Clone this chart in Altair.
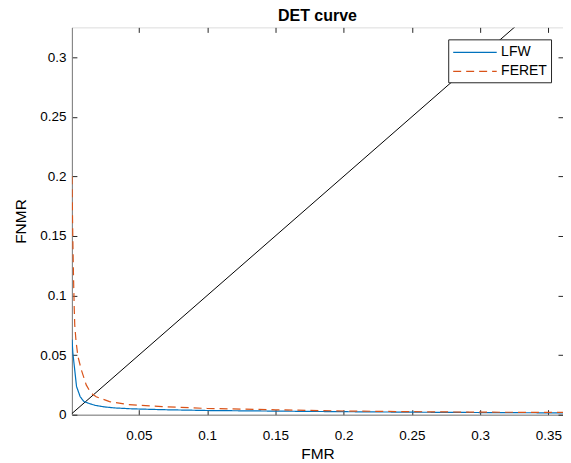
import altair as alt
import pandas as pd

# LFW curve (FMR, FNMR)
lfw_fmr = [0.001, 0.0016, 0.0043, 0.0070, 0.0097, 0.014, 0.018, 0.025, 0.033, 0.045, 0.067, 0.10, 0.15, 0.20, 0.25, 0.30, 0.361]
lfw_fnmr = [0.063, 0.052, 0.0237, 0.015, 0.0111, 0.0092, 0.0078, 0.0065, 0.0056, 0.0049, 0.0042, 0.0035, 0.0030, 0.0025, 0.0021, 0.0018, 0.0015]

# FERET curve (FMR, FNMR)
feret_fmr = [0.001, 0.0013, 0.0017, 0.0022, 0.0026, 0.0030, 0.0040, 0.0053, 0.0078, 0.0114, 0.0146, 0.0187, 0.0285, 0.0426, 0.067, 0.10, 0.15, 0.20, 0.25, 0.30, 0.361]
feret_fnmr = [0.200, 0.170, 0.140, 0.110, 0.090, 0.075, 0.061, 0.049, 0.0377, 0.025, 0.0185, 0.015, 0.011, 0.0084, 0.0068, 0.0052, 0.0041, 0.0031, 0.0025, 0.0021, 0.0019]

# Diagonal reference line (FMR = FNMR)
diag_vals = [0.0, 0.4]

series_names = ["LFW", "FERET"]
series_colors = ["#0072BD", "#D95319"]
x_ticks = [0.05, 0.1, 0.15, 0.2, 0.25, 0.3, 0.35]
y_ticks = [0, 0.05, 0.1, 0.15, 0.2, 0.25, 0.3]
x_domain = [0.0009, 0.3607]
y_domain = [0, 0.325]

rows = []
for i, (a, b) in enumerate(zip(lfw_fmr, lfw_fnmr)):
    rows.append({"series": "LFW", "order": i, "FMR": a, "FNMR": b})
for i, (a, b) in enumerate(zip(feret_fmr, feret_fnmr)):
    rows.append({"series": "FERET", "order": i, "FMR": a, "FNMR": b})
df = pd.DataFrame(rows)
diag = pd.DataFrame({"FMR": diag_vals, "FNMR": diag_vals})

FONT = "Liberation Sans"
AX = "#262626"
GRAY = "#7a7a7a"

xscale = alt.Scale(domain=x_domain, nice=False, zero=False)
yscale = alt.Scale(domain=y_domain, nice=False, zero=False)

inward = {"expr": "-5"}

legend_kw = dict(title=None, orient="none", legendX=377, legendY=12,
                 symbolType="M-1,0H4.45", symbolSize=256,
                 symbolStrokeWidth=1.2, labelFontSize=14,
                 labelOffset=31, rowPadding=3,
                 fillColor="white", strokeColor=AX, padding=4)

lines = alt.Chart(df).mark_line(strokeWidth=1.2, clip=True).encode(
    x=alt.X("FMR:Q", scale=xscale,
            axis=alt.Axis(values=x_ticks, format="~g", title="FMR", orient="bottom",
                          grid=False, tickSize=inward, tickColor=AX, domainColor=GRAY,
                          labelPadding=19, titlePadding=4, labelFontSize=13.5,
                          titleFontSize=15.5, titleFontWeight="normal")),
    y=alt.Y("FNMR:Q", scale=yscale,
            axis=alt.Axis(values=y_ticks, format="~g", title="FNMR", orient="left",
                          grid=False, tickSize=inward, tickColor=AX, domainColor=GRAY,
                          labelPadding=11, titlePadding=11, labelFontSize=13.5,
                          titleFontSize=15.5, titleFontWeight="normal")),
    color=alt.Color("series:N", sort=series_names,
                    scale=alt.Scale(domain=series_names, range=series_colors),
                    legend=alt.Legend(**legend_kw)),
    strokeDash=alt.StrokeDash("series:N", sort=series_names,
                              scale=alt.Scale(domain=series_names, range=[[1, 0], [8, 5]]),
                              legend=alt.Legend(**legend_kw)),
    order="order:Q",
)

diag_line = alt.Chart(diag).mark_line(color="black", strokeWidth=1, clip=True).encode(
    x=alt.X("FMR:Q", scale=xscale,
            axis=alt.Axis(values=x_ticks, orient="top", labels=False, title=None, grid=False,
                          tickSize=inward, tickColor=AX, domain=False)),
    y=alt.Y("FNMR:Q", scale=yscale,
            axis=alt.Axis(values=y_ticks, orient="right", labels=False, title=None, grid=False,
                          tickSize=inward, tickColor=AX, domain=False)),
)

chart = alt.layer(diag_line, lines).resolve_axis(x="independent", y="independent").properties(
    width=492, height=388,
    title=alt.TitleParams("DET curve", fontSize=16, fontWeight="bold", font=FONT,
                          color="black", anchor="middle", offset=3),
    autosize=alt.AutoSizeParams(type="none"),
    padding={"left": 64, "top": 19, "right": 0, "bottom": 48},
).configure_view(
    stroke=GRAY, strokeWidth=1
).configure_axis(
    labelFont=FONT, titleFont=FONT, labelColor=AX, titleColor=AX
).configure_legend(
    labelFont=FONT, labelColor=AX
).configure(background="white")

chart.save("out.html", embed_options={"renderer": "svg", "actions": False})
